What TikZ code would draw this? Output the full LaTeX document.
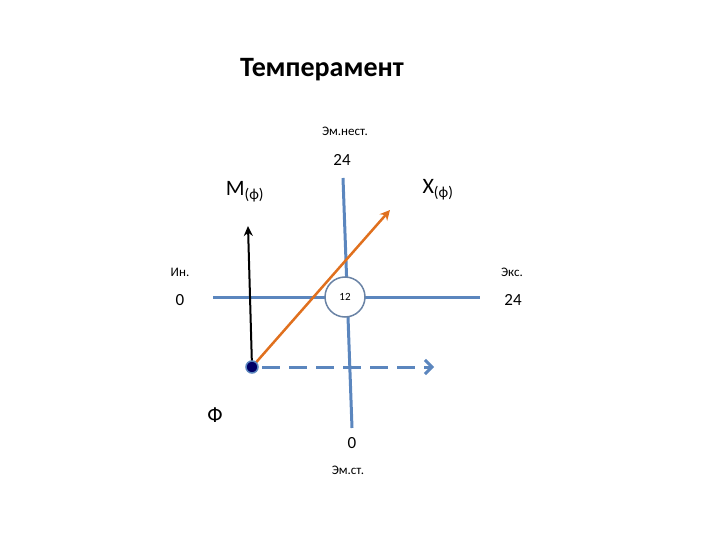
\documentclass[tikz,border=0pt]{standalone}
\usepackage{fontspec}
\setmainfont{Carlito}
\usetikzlibrary{arrows.meta}
\definecolor{axblue}{HTML}{5B86BE}
\definecolor{orng}{HTML}{E0701E}
\begin{document}
\begin{tikzpicture}[x=1pt,y=-1pt,
  lbl/.style={inner sep=0pt,font=\fontsize{13}{15}\selectfont},
  num/.style={inner sep=0pt,font=\fontsize{17}{20}\selectfont}]
\useasboundingbox (0,0) rectangle (720,540);
\node[inner sep=0pt,font=\fontsize{28}{32}\selectfont\bfseries] (title) at (322,70) {Темперамент};
\node[lbl] (emn) at (345,131) {Эм.нест.};
\node[num] (t24) at (342,160) {24};
\coordinate (vt) at (343,178);
\coordinate (vb) at (352,428);
\coordinate (hl) at (213,297);
\coordinate (hr) at (480,297);
\draw[axblue,line width=3pt] (vt) -- (vb);
\draw[axblue,line width=3pt] (hl) -- (hr);
\node[circle,draw=axblue!60!gray,line width=1.5pt,fill=white,minimum size=40pt,inner sep=0pt,font=\fontsize{11}{13}\selectfont] (c) at (345,297) {12};
\node[lbl] (in) at (180,272) {Ин.};
\node[num] (z0) at (180,300) {0};
\node[lbl] (eks) at (512,272) {Экс.};
\node[num] (r24) at (513,300) {24};
\node[inner sep=0pt,font=\fontsize{22}{24}\selectfont] (M) at (245,192) {M\textsubscript{(ф)}};
\node[inner sep=0pt,font=\fontsize{22}{24}\selectfont] (X) at (438,190) {X\textsubscript{(ф)}};
\coordinate (o) at (252,367);
\coordinate (mt) at (248,226);
\coordinate (xt) at (390,210);
\coordinate (dr) at (434,367);
\draw[black,line width=2pt,-{Stealth[length=10pt,width=9pt]}] (o) -- (mt);
\draw[orng,line width=2.5pt,-{Stealth[length=10pt,width=10pt]}] (o) -- (xt);
\draw[axblue,line width=3pt,dash pattern=on 18pt off 9pt,-{Straight Barb[length=7pt,width=14pt]}] (262,367) -- (dr);
\node[circle,fill=blue!40!black,draw=axblue,line width=1.5pt,minimum size=12pt,inner sep=0pt] (dot) at (o) {};
\node[inner sep=0pt,font=\fontsize{22}{24}\selectfont] (F) at (215,415) {Ф};
\node[num] (b0) at (352,443) {0};
\node[lbl] (ems) at (348,470) {Эм.ст.};
\end{tikzpicture}
\end{document}
